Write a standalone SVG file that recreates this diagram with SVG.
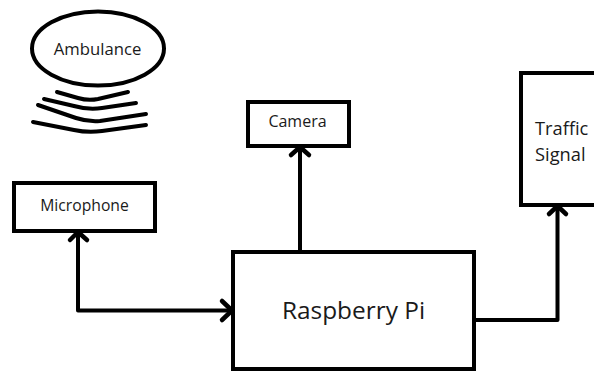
<svg xmlns="http://www.w3.org/2000/svg" width="594" height="371" viewBox="0 0 594 371">
<style>
.s{fill:none;stroke:#000;stroke-width:4}
.c{fill:none;stroke:#000;stroke-width:4;stroke-linejoin:round;stroke-linecap:round}
.w{fill:none;stroke:#000;stroke-width:4.500;stroke-linecap:round;stroke-linejoin:round}
text{font-family:"Open Sans","Noto Sans",sans-serif;fill:#1a1a1a}
</style>
<rect width="594" height="371" fill="#fff"/>
<g id="ambulance">
<ellipse class="s" cx="98" cy="48.500" rx="66" ry="37"/>
<text x="97.500" y="55" font-size="16.700" text-anchor="middle">Ambulance</text>
</g>
<g id="sound-waves">
<path class="c" d="M57 92L78 98Q88 101 98 99L128 92"/>
<path class="c" d="M44 99L74 106Q88 110 102 108L136 103"/>
<path class="c" d="M38 105L76 118Q88 122 100 121L146 114"/>
<path class="c" d="M33 122L74 130Q88 133 102 131L146 125"/>
</g>
<g id="microphone">
<rect class="s" x="14" y="183" width="141" height="48"/>
<text x="84.500" y="211" font-size="15.700" text-anchor="middle">Microphone</text>
</g>
<g id="camera">
<rect class="s" x="248" y="102" width="101" height="44"/>
<text x="297.500" y="127" font-size="16" text-anchor="middle">Camera</text>
</g>
<g id="traffic-signal">
<rect class="s" x="521" y="73" width="90" height="132"/>
<text x="535" y="135" font-size="18.300">Traffic</text>
<text x="535" y="161" font-size="18.300">Signal</text>
</g>
<g id="raspberry-pi">
<rect class="s" x="233" y="252" width="241" height="117"/>
<text x="353.500" y="319" font-size="24.400" text-anchor="middle">Raspberry Pi</text>
</g>
<g id="connectors">
<path class="c" d="M232 310.500H78V234"/>
<path class="w" d="M70 240L78 232L87 240"/>
<path class="w" d="M222 301L232 310.500L222 320"/>
<path class="c" d="M300 250V148"/>
<path class="w" d="M291 155L300 147L309 155"/>
<path class="c" d="M476 320H557.500V208"/>
<path class="w" d="M549 214L557.500 206L566 214"/>
</g>
</svg>
